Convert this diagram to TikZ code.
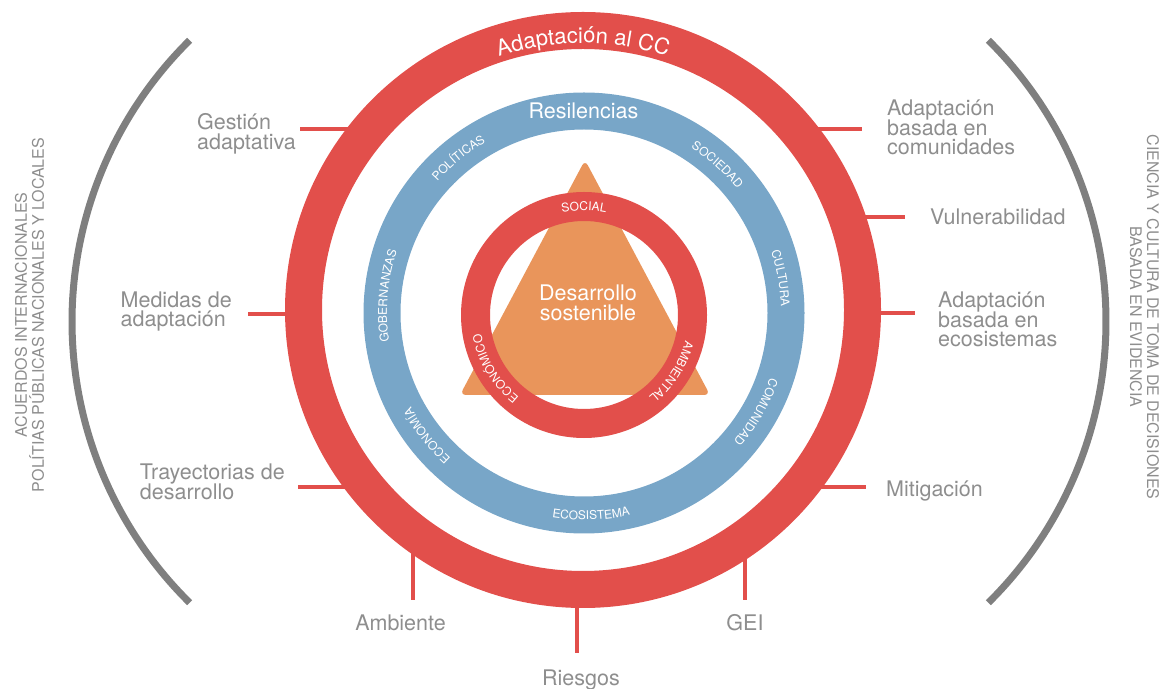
\documentclass[tikz,border=0pt]{standalone}
\usepackage{fontspec}
\setmainfont{TeX Gyre Heros}
\usepackage{xcolor}
\usepackage{tikz}
\usetikzlibrary{decorations.text}
\definecolor{ccred}{HTML}{E24F4B}
\definecolor{resblue}{HTML}{78A6C8}
\definecolor{dsorange}{HTML}{E9955B}
\definecolor{bracket}{HTML}{7F7F7F}
\definecolor{labgray}{HTML}{8E8E8E}
\setlength{\lineskiplimit}{-20pt}
\newcommand{\ringfont}{\fontsize{12}{12}\selectfont}
\newcommand{\ccfont}{\fontsize{22}{22}\selectfont}
\tikzset{
  redring/.style={draw=ccred, line width=37pt},
  bluering/.style={draw=resblue, line width=37pt},
  dsring/.style={draw=ccred, line width=29pt},
  tick/.style={draw=ccred, line width=4pt},
  brace/.style={draw=bracket, line width=7pt},
  lab/.style={text=labgray, inner sep=0pt, align=left, font=\fontsize{21.5}{19.5}\selectfont},
  side/.style={text=labgray, inner sep=0pt, align=center, font=\fontsize{16}{17}\selectfont},
  head/.style={text=white, inner sep=0pt, font=\fontsize{21.5}{19.5}\selectfont},
  ringtext/.style={decorate, decoration={text along path, text align=center, text color=white, text={|\ringfont|#1}}},
  cctext/.style={decorate, decoration={text along path, text align=center, text color=white, text={|\ccfont|#1}}}
}

\begin{document}
\begin{tikzpicture}[x=1pt, y=1pt]
  \useasboundingbox (0,0) rectangle (1159,688);
  \coordinate (cc) at (583,378);  % adaptacion ring
  \coordinate (res) at (584,375); % resilencias ring
  \coordinate (ds) at (584,373);  % desarrollo ring
  \coordinate (lb) at (467,366.5);
  \coordinate (rb) at (711,366.5);

  % outer brackets and side texts
  \draw[brace, shift={(lb)}] (134.6:395) arc (134.6:225.4:395);
  \draw[brace, shift={(rb)}] (45.4:395) arc (45.4:-45.4:395);
  \node[side, rotate=90] (intl) at (29.5,373) {ACUERDOS INTERNACIONALES\\POLÍTIAS PÚBLICAS NACIONALES Y LOCALES};
  \node[side, rotate=-90] (evid) at (1144.5,371) {CIENCIA Y CULTURA DE TOMA DE DECISIONES\\BASADA EN EVIDENCIA};

  % ticks: free end, and a point under the red ring
  \coordinate (tGest) at (300,559); \coordinate (rGest) at (370,559);
  \coordinate (tMed) at (248,374);  \coordinate (rMed) at (303,374);
  \coordinate (tTray) at (298,201); \coordinate (rTray) at (367,201);
  \coordinate (tComu) at (862,559); \coordinate (rComu) at (796,559);
  \coordinate (tVuln) at (905,471); \coordinate (rVuln) at (846,471);
  \coordinate (tEcos) at (915,375); \coordinate (rEcos) at (862,375);
  \coordinate (tMiti) at (866,201); \coordinate (rMiti) at (799,201);
  \coordinate (tAmb) at (413,88);   \coordinate (rAmb) at (413,156);
  \coordinate (tGei) at (745,88);   \coordinate (rGei) at (745,150);
  \coordinate (tRies) at (577,35);  \coordinate (rRies) at (577,99);
  \foreach \t in {Gest,Med,Tray,Comu,Vuln,Ecos,Miti,Amb,Gei,Ries}
    \draw[tick] (r\t) -- (t\t);

  % rings
  \draw[redring] (cc) circle (279.5);
  \draw[bluering] (res) circle (202);
  \fill[dsorange, rounded corners=6pt] (585,528) -- (710,293) -- (460,293) -- cycle;
  \draw[dsring] (ds) circle (108.5);

  % texts on the rings
  \path[cctext={Adaptación al CC}, shift={(cc)}] (125:267) arc (125:55:267);
  \node[head, anchor=base] (resl) at (583.5,569) {Resilencias};
  \path[ringtext={POLÍTICAS}, shift={(res)}] (159:197) arc (159:99:197);
  \path[ringtext={SOCIEDAD}, shift={(res)}] (78:197) arc (78:18:197);
  \path[ringtext={CULTURA}, shift={(res)}] (40:197) arc (40:-20:197);
  \path[ringtext={COMUNIDAD}, shift={(res)}] (0:197) arc (0:-60:197);
  \path[ringtext={ECONOMÍA}, shift={(res)}] (248:197) arc (248:188:197);
  \path[ringtext={GOBERNANZAS}, shift={(res)}] (205:197) arc (205:145:197);
  \path[ringtext={ECOSISTEMA}, shift={(res)}] (-118:207) arc (-118:-58:207);
  \path[ringtext={SOCIAL}, shift={(ds)}] (130:104.5) arc (130:50:104.5);
  \path[ringtext={ECONÓMICO}, shift={(ds)}] (251:104.5) arc (251:171:104.5);
  \path[ringtext={AMBIENTAL}, shift={(ds)}] (7:104.5) arc (7:-73:104.5);
  \node[head, align=center] (dsl) at (588,385) {Desarrollo\\sostenible};

  % labels
  \node[lab, anchor=east] (gest) at (296,554) {Gestión\\adaptativa};
  \node[lab, anchor=east] (med) at (232,376.6) {Medidas de\\adaptación};
  \node[lab, anchor=east] (tray) at (285,206.3) {Trayectorias de\\desarrollo};
  \node[lab, anchor=west] (comu) at (887,560.2) {Adaptación\\basada en\\comunidades};
  \node[lab, anchor=west] (vuln) at (930,470.7) {Vulnerabilidad};
  \node[lab, anchor=west] (ecos) at (938,368.5) {Adaptación\\basada en\\ecosistemas};
  \node[lab, anchor=west] (miti) at (886,196.8) {Mitigación};
  \node[lab, anchor=base] (amb) at (400.5,57) {Ambiente};
  \node[lab, anchor=base] (gei) at (745,57) {GEI};
  \node[lab, anchor=base] (ries) at (581,3) {Riesgos};
\end{tikzpicture}
\end{document}
